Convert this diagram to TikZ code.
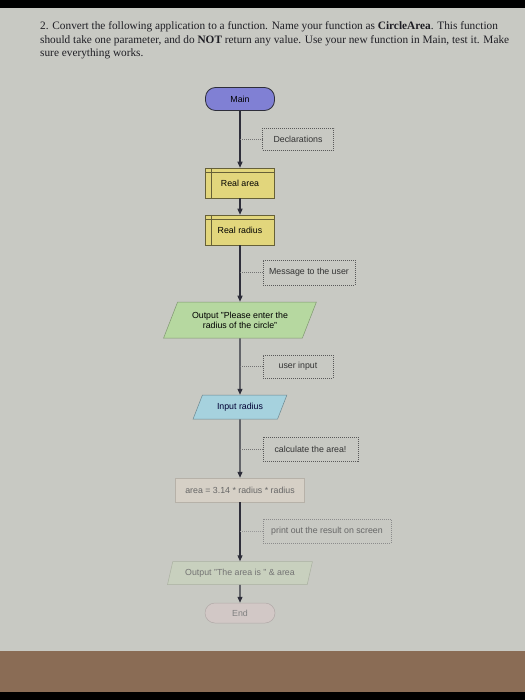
\documentclass[tikz,border=0pt]{standalone}
\usepackage{fontspec}
\setmainfont{Liberation Serif}
\setsansfont{Liberation Sans}
\usetikzlibrary{shapes.geometric,arrows.meta}
\definecolor{bgc}{HTML}{C8C9C3}
\definecolor{barc}{HTML}{8A6C55}
\definecolor{mainc}{HTML}{8080D4}
\definecolor{declc}{HTML}{E2D67C}
\definecolor{outc}{HTML}{B6D8A0}
\definecolor{inc}{HTML}{A6D2DE}
\definecolor{procc}{HTML}{D6D0C6}
\definecolor{out2c}{HTML}{C8D0BE}
\definecolor{endc}{HTML}{D2C8C6}
\definecolor{linec}{HTML}{2E2E3A}
\definecolor{titlec}{HTML}{1E1E24}
\begin{document}
\begin{tikzpicture}[x=1pt,y=-1pt,
  title/.style={anchor=base west,inner sep=0pt,text=titlec,font=\fontsize{11.3}{13}\selectfont},
  box/.style={font=\sffamily\fontsize{8.8}{9.8}\selectfont,inner sep=2pt,align=center},
  term/.style={box,rounded corners=10pt,draw=linec,line width=0.8pt},
  declbox/.style={box,draw=black!55!declc,fill=declc,line width=0.5pt,
    path picture={\draw[black!55!declc,line width=0.4pt]
      ([xshift=6pt]path picture bounding box.north west) -- ([xshift=6pt]path picture bounding box.south west);
      \draw[black!55!declc,line width=0.4pt]
      ([yshift=-4pt]path picture bounding box.north west) -- ([yshift=-4pt]path picture bounding box.north east);}},
  comment/.style={box,draw=black!65,dash pattern=on 1pt off 1pt,line width=0.5pt,text=black!80},
  io/.style={box,trapezium,trapezium stretches=true,line width=0.5pt},
  flow/.style={draw=linec,line width=1.2pt,-{Triangle[length=6pt,width=5pt]}},
  clink/.style={draw=black!55,dash pattern=on 1pt off 1pt,line width=0.5pt}]
\useasboundingbox (0,0) rectangle (525,700);
\fill[bgc] (0,0) rectangle (525,700);
\fill[black] (0,0) rectangle (525,8);
\fill[barc] (0,651) rectangle (525,692);
\fill[black] (0,692) rectangle (525,700);

\node[title] (t1) at (40,30) {2. Convert the following application to a function. Name your function as \textbf{CircleArea}. This function};
\node[title] (t2) at (40,44) {should take one parameter, and do \textbf{NOT} return any value. Use your new function in Main, test it. Make};
\node[title] (t3) at (40,57) {sure everything works.};

\node[term,fill=mainc,minimum width=69pt,minimum height=23pt] (main) at (240,99) {Main};
\node[comment,minimum width=71pt,minimum height=22pt] (decl) at (298,139) {Declarations};
\node[declbox,minimum width=69pt,minimum height=30pt] (ra) at (240,183) {Real area};
\node[declbox,minimum width=69pt,minimum height=30pt] (rr) at (240,230) {Real radius};
\node[comment,minimum width=92pt,minimum height=25pt] (msg) at (309,272.5) {Message to the user};
\node[io,fill=outc,draw=outc!70!black,trapezium left angle=61,trapezium right angle=119,
  minimum width=153pt,minimum height=36pt] (out1) at (240,320) {Output "Please enter the\\radius of the circle"};
\node[comment,minimum width=70pt,minimum height=23pt] (ui) at (298,366.5) {user input};
\node[io,fill=inc,draw=inc!65!black,text=black!80!blue,trapezium left angle=63,trapezium right angle=117,
  minimum width=94pt,minimum height=24pt] (inp) at (240,407) {Input radius};
\node[comment,minimum width=95pt,minimum height=24pt] (calc) at (310.5,449) {calculate the area!};
\node[box,fill=procc,draw=procc!85!black,line width=0.5pt,text=black!60,
  minimum width=129pt,minimum height=24pt] (area) at (240,490) {area = 3.14 * radius * radius};
\node[comment,draw=black!45,text=black!60,minimum width=128pt,minimum height=24pt] (print) at (327,531) {print out the result on screen};
\node[io,fill=out2c,draw=out2c!85!black,text=black!55,trapezium left angle=70,trapezium right angle=110,
  minimum width=145pt,minimum height=23pt] (out2) at (240,573) {Output "The area is " \& area};
\node[term,fill=endc,draw=endc!85!black,line width=0.5pt,text=black!50,
  minimum width=70pt,minimum height=20pt] (end) at (240,613) {End};

\draw[flow] (main) -- (ra);
\draw[flow] (ra) -- (rr);
\draw[flow] (rr) -- (out1);
\draw[flow] (out1) -- (inp);
\draw[flow] (inp) -- (area);
\draw[flow] (area) -- (out2);
\draw[flow] (out2) -- (end);

\draw[clink] (main |- decl) -- (decl.west);
\draw[clink] (main |- msg) -- (msg.west);
\draw[clink] (main |- ui) -- (ui.west);
\draw[clink] (main |- calc) -- (calc.west);
\draw[clink,draw=black!40] (main |- print) -- (print.west);
\end{tikzpicture}
\end{document}
